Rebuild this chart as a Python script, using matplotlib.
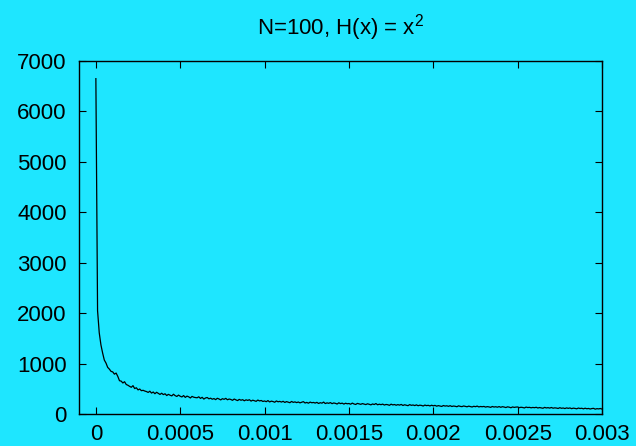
import numpy as np
import matplotlib
matplotlib.use("Agg")
import matplotlib.pyplot as plt

plt.rcParams['font.family'] = ['Liberation Sans', 'DejaVu Sans']

bin_width = 1e-5
counts = [
    6650, 2050, 1610, 1370, 1210, 1070, 1010, 925, 890, 845,
    835, 790, 812, 745, 660, 652, 615, 640, 585, 570,
    548, 530, 562, 505, 520, 478, 495, 462, 470, 455,
    445, 428, 452, 415, 436, 402, 431, 409, 388, 412,
    384, 401, 366, 390, 372, 359, 392, 364, 348, 375,
    352, 338, 366, 329, 355, 341, 318, 349, 333, 326,
    322, 341, 309, 331, 296, 318, 327, 301, 314, 293,
    306, 285, 312, 298, 279, 304, 291, 310, 282, 297,
    288, 271, 297, 280, 266, 290, 273, 284, 262, 281,
    270, 283, 256, 274, 262, 251, 277, 259, 268, 249,
    258, 244, 266, 239, 255, 247, 233, 259, 242, 250,
    237, 252, 229, 246, 236, 224, 249, 231, 240, 226,
    238, 221, 232, 245, 218, 230, 214, 236, 223, 229,
    217, 231, 209, 224, 215, 236, 207, 221, 212, 226,
    205, 219, 211, 198, 222, 206, 215, 197, 213, 203,
    208, 194, 216, 199, 189, 210, 201, 192, 206, 196,
    187, 202, 193, 181, 199, 188, 207, 183, 194, 185,
    196, 178, 189, 184, 172, 195, 180, 188, 174, 186,
    176, 190, 169, 183, 174, 165, 186, 172, 179, 167,
    181, 164, 175, 170, 158, 177, 166, 172, 160, 174,
    162, 171, 155, 166, 159, 150, 168, 157, 163, 152,
    165, 149, 158, 153, 144, 162, 151, 146, 159, 150,
    143, 156, 148, 139, 153, 145, 157, 140, 149, 144,
    150, 137, 146, 141, 132, 149, 138, 144, 135, 147,
    133, 145, 138, 128, 142, 136, 124, 140, 131, 137,
    139, 126, 134, 129, 120, 137, 128, 132, 123, 130,
    125, 133, 119, 128, 122, 114, 131, 120, 126, 117,
    129, 115, 122, 118, 110, 125, 113, 119, 108, 121,
    112, 120, 106, 116, 111, 103, 118, 109, 114, 102,
    115, 104, 110, 99, 108, 112, 96, 106, 101, 109,
    98,
]
x = np.arange(len(counts)) * bin_width

xticks = [0, 0.0005, 0.001, 0.0015, 0.002, 0.0025, 0.003]
xticklabels = ["0", "0.0005", "0.001", "0.0015", "0.002", "0.0025", "0.003"]
yticks = [0, 1000, 2000, 3000, 4000, 5000, 6000, 7000]

bg = '#1EE6FF'
fig = plt.figure(figsize=(6.36, 4.46), dpi=100, facecolor=bg)
ax = fig.add_axes([79/636, 1-414/446, (602-79)/636, (414-61)/446])
ax.set_facecolor(bg)
ax.plot(x, counts, color='black', lw=0.9)
ax.set_xlim(-0.0001, 0.003)
ax.set_ylim(0, 7000)
ax.set_xticks(xticks)
ax.set_xticklabels(xticklabels)
ax.set_yticks(yticks)
ax.tick_params(direction='in', top=True, right=True, length=5, width=0.8,
               labelsize=16, colors='black')
ax.tick_params(axis='x', pad=7)
ax.tick_params(axis='y', pad=9)
for s in ax.spines.values():
    s.set_linewidth(1.0)
ax.set_title(r"N=100, H(x) = $\mathregular{x^2}$", fontsize=16, pad=19)
fig.savefig("out.png", dpi=100, facecolor=bg)
